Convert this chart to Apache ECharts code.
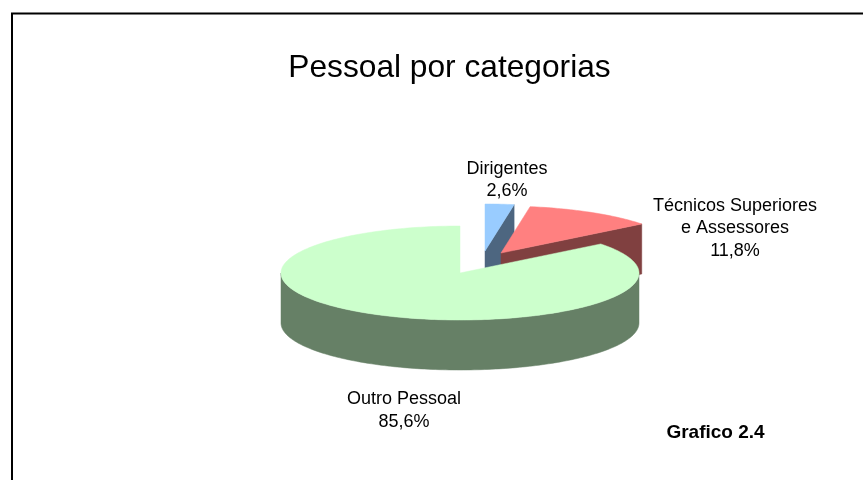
<!DOCTYPE html>
<html lang="pt">
<head>
    <meta charset="utf-8">
    <title>Pessoal por categorias</title>
    <style>
        html, body { margin: 0; padding: 0; background: #fff; }
        #main { width: 863px; height: 480px; }
    </style>
</head>
<body>
<div id="main"></div>

<script src="https://cdn.jsdelivr.net/npm/echarts@6/dist/echarts.min.js"></script>
<script>
    var categories = ['Dirigentes', 'Técnicos Superiores\ne Assessores', 'Outro Pessoal'];
    var values = [2.6, 11.8, 85.6];

    var topColors = ['#99ccff', '#ff8080', '#ccffcc'];
    var wallColors = ['#4d6680', '#804040', '#668066'];
    // exploded slices: offset of each slice from the pie centre
    var offsets = [[25, -22], [41, -20], [0, 0]];
    var labelPos = [[507, 180], [735, 228.5], [404, 410.5]];

    var cx = 460, cy = 273, rx = 179, ry = 47, depth = 50;
    var total = values.reduce(function (a, b) { return a + b; }, 0);

    // angle is clockwise from 12 o'clock
    function rim(a, ox, oy, down) {
        return [cx + ox + rx * Math.sin(a), cy + oy - ry * Math.cos(a) + (down || 0)];
    }

    function arc(a0, a1, ox, oy, down) {
        var pts = [];
        var n = Math.max(2, Math.ceil(Math.abs(a1 - a0) / 0.02));
        for (var i = 0; i <= n; i++) {
            pts.push(rim(a0 + (a1 - a0) * i / n, ox, oy, down));
        }
        return pts;
    }

    function poly(points, color) {
        return {
            type: 'polygon',
            shape: {points: points},
            style: {fill: color, stroke: color, lineWidth: 0.5}
        };
    }

    function renderSlice(params, api) {
        var i = params.dataIndex;
        var before = 0;
        for (var k = 0; k < i; k++) before += values[k];
        var a0 = before / total * Math.PI * 2;
        var a1 = (before + api.value(1)) / total * Math.PI * 2;
        var ox = offsets[i][0], oy = offsets[i][1];
        var apex = [cx + ox, cy + oy];
        var children = [];

        // side faces of the cut, seen only on the slices at the back
        if (i < 2) {
            var p = rim(a1, ox, oy);
            children.push(poly([apex, p, [p[0], p[1] + depth], [apex[0], apex[1] + depth]], wallColors[i]));
        }
        // outer wall: front half of the rim
        var w0 = Math.max(a0, Math.PI / 2), w1 = Math.min(a1, Math.PI * 1.5);
        if (w1 > w0) {
            children.push(poly(arc(w0, w1, ox, oy).concat(arc(w1, w0, ox, oy, depth)), wallColors[i]));
        }
        children.push(poly([apex].concat(arc(a0, a1, ox, oy)), topColors[i]));
        children.push({
            type: 'text',
            style: {
                text: categories[i] + '\n' + api.value(1).toFixed(1).replace('.', ',') + '%',
                x: labelPos[i][0],
                y: labelPos[i][1],
                align: 'center',
                verticalAlign: 'middle',
                fontFamily: 'Liberation Sans',
                fontSize: 18,
                lineHeight: 22.5,
                fill: '#000'
            }
        });
        return {type: 'group', children: children};
    }

    var seriesData = categories.map(function (c, i) {
        return {name: c, value: [i, values[i]]};
    });

    var myChart = echarts.init(document.getElementById('main'), null, {renderer: 'canvas'});

    var option = {
        animation: false,
        backgroundColor: '#fff',
        title: [
            {
                text: 'Pessoal por categorias',
                left: 444.5,
                top: 47,
                textAlign: 'center',
                textStyle: {fontFamily: 'Liberation Sans', fontSize: 31.7, fontWeight: 'normal', color: '#000'}
            },
            {
                text: 'Grafico 2.4',
                left: 710.5,
                top: 418,
                textAlign: 'center',
                textStyle: {fontFamily: 'Liberation Sans', fontSize: 19, fontWeight: 'bold', color: '#000'}
            }
        ],
        graphic: [{
            type: 'polyline',
            shape: {points: [[12, 480], [12, 13.5], [863, 13.5]]},
            style: {stroke: '#000', lineWidth: 2, fill: null}
        }],
        series: [{
            type: 'custom',
            coordinateSystem: 'none',
            renderItem: renderSlice,
            data: seriesData
        }]
    };

    myChart.setOption(option);
</script>
</body>
</html>
